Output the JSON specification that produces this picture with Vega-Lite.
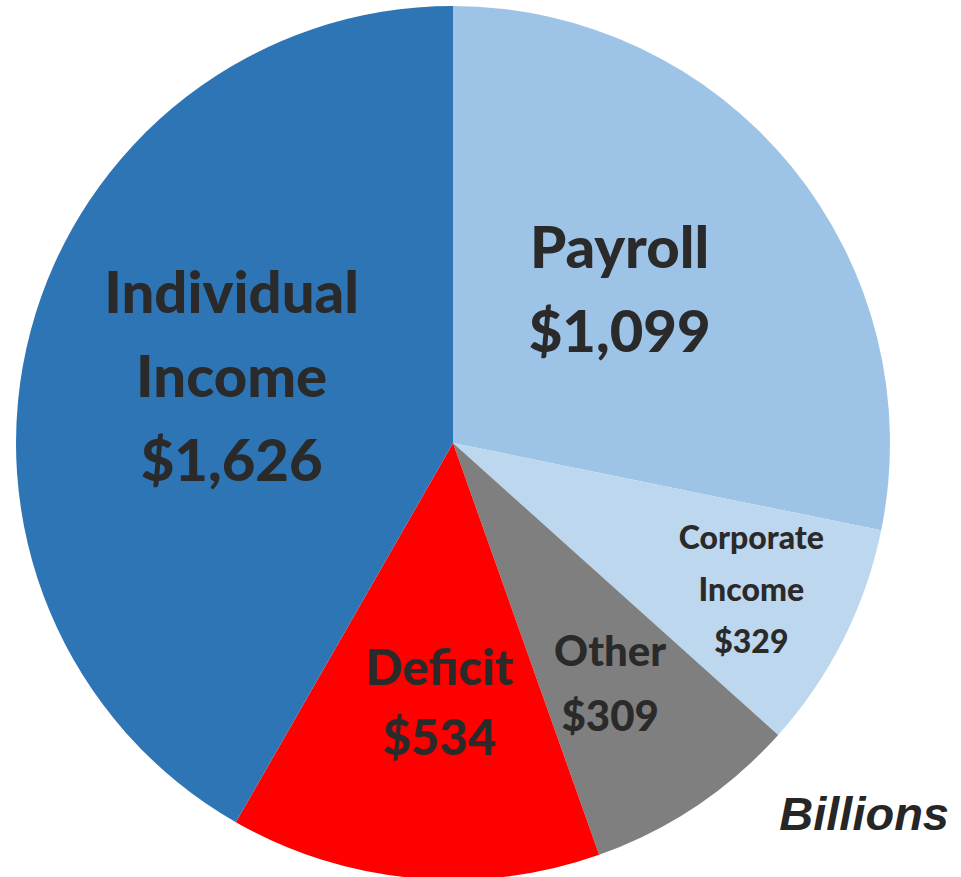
{
  "$schema": "https://vega.github.io/schema/vega-lite/v6.json",
  "width": 906,
  "height": 886,
  "autosize": "none",
  "padding": {"left": 0, "top": 0, "right": 55, "bottom": 0},
  "background": "white",
  "config": {"view": {"stroke": null}},
  "title": {
    "text": "Billions",
    "orient": "bottom",
    "anchor": "end",
    "frame": "group",
    "offset": -93,
    "dx": 43,
    "font": "Liberation Sans",
    "fontSize": 47,
    "fontWeight": "bold",
    "fontStyle": "italic",
    "color": "#262626"
  },
  "data": {
    "values": [
      {"idx": 1, "name": "Payroll", "value": 1099, "label": "Payroll\n$1,099"},
      {"idx": 2, "name": "Corporate Income", "value": 329, "label": "Corporate\nIncome\n$329"},
      {"idx": 3, "name": "Other", "value": 309, "label": "Other\n$309"},
      {"idx": 4, "name": "Deficit", "value": 534, "label": "Deficit\n$534"},
      {"idx": 5, "name": "Individual Income", "value": 1626, "label": "Individual\nIncome\n$1,626"}
    ]
  },
  "encoding": {
    "theta": {"field": "value", "type": "quantitative", "stack": true},
    "order": {"field": "idx", "type": "quantitative"}
  },
  "layer": [
    {
      "mark": {"type": "arc", "outerRadius": 437, "stroke": null},
      "encoding": {
        "color": {
          "field": "name",
          "type": "nominal",
          "legend": null,
          "scale": {
            "domain": ["Payroll", "Corporate Income", "Other", "Deficit", "Individual Income"],
            "range": ["#9DC3E6", "#BDD7EE", "#7F7F7F", "#FF0000", "#2E75B6"]
          }
        }
      }
    },
    {
      "mark": {"type": "text", "radius": 228, "dx": -10, "dy": -48, "font": "Lato", "fontWeight": 900, "fontSize": 58, "lineHeight": 84, "lineBreak": "\n", "align": "center", "baseline": "middle", "color": "#2a2a2a"},
      "encoding": {
        "text": {"condition": {"test": "datum.name === 'Payroll'", "field": "label"}, "value": ""}
      }
    },
    {
      "mark": {"type": "text", "radius": 228, "dx": -1, "dy": -88, "font": "Lato", "fontWeight": 900, "fontSize": 58, "lineHeight": 84, "lineBreak": "\n", "align": "center", "baseline": "middle", "color": "#2a2a2a"},
      "encoding": {
        "text": {"condition": {"test": "datum.name === 'Individual Income'", "field": "label"}, "value": ""}
      }
    },
    {
      "mark": {"type": "text", "radius": 260, "dx": 10, "dy": -32, "font": "Lato", "fontWeight": 900, "fontSize": 49, "lineHeight": 70, "lineBreak": "\n", "align": "center", "baseline": "middle", "color": "#2a2a2a"},
      "encoding": {
        "text": {"condition": {"test": "datum.name === 'Deficit'", "field": "label"}, "value": ""}
      }
    },
    {
      "mark": {"type": "text", "radius": 286, "dx": -2, "dy": -28, "font": "Lato", "fontWeight": 900, "fontSize": 42, "lineHeight": 65, "lineBreak": "\n", "align": "center", "baseline": "middle", "color": "#2a2a2a"},
      "encoding": {
        "text": {"condition": {"test": "datum.name === 'Other'", "field": "label"}, "value": ""}
      }
    },
    {
      "mark": {"type": "text", "radius": 334, "dy": -54, "font": "Lato", "fontWeight": 900, "fontSize": 32, "lineHeight": 52, "lineBreak": "\n", "align": "center", "baseline": "middle", "color": "#2a2a2a"},
      "encoding": {
        "text": {"condition": {"test": "datum.name === 'Corporate Income'", "field": "label"}, "value": ""}
      }
    }
  ]
}
